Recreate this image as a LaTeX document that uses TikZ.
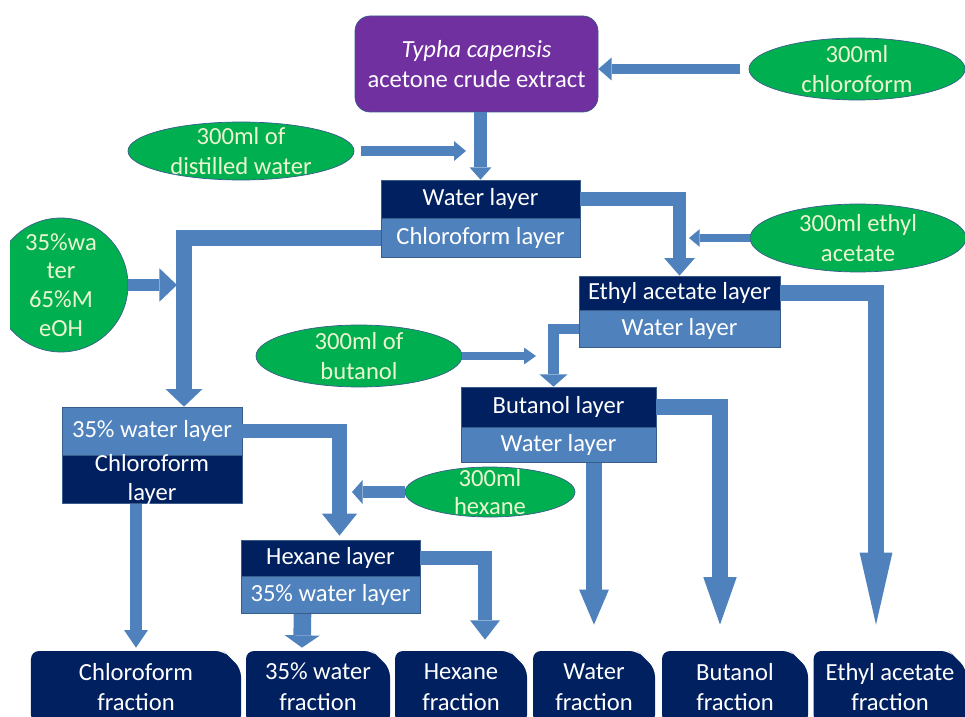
\documentclass[tikz,border=0pt]{standalone}
\usepackage{fontspec}
\setmainfont{Carlito}
\usepackage{tikz}
\usetikzlibrary{arrows.meta,positioning,calc,shapes.geometric,shapes.misc}
\definecolor{extractpurple}{RGB}{112,48,160}
\definecolor{layernavy}{RGB}{0,32,96}
\definecolor{layerblue}{RGB}{79,129,189}
\definecolor{pipeblue}{RGB}{79,129,189}
\definecolor{pipeedge}{RGB}{56,93,138}
\definecolor{solvgreen}{RGB}{0,176,80}
\definecolor{solvtext}{RGB}{236,246,206}

\begin{document}
\begin{tikzpicture}[x=0.2mm,y=-0.2mm,font=\fontsize{14}{17.5}\selectfont,
 darklay/.style={rectangle,draw=pipeedge,fill=layernavy,text=white,inner sep=0pt,align=center},
 lightlay/.style={rectangle,draw=pipeedge,fill=layerblue,text=white,inner sep=0pt,align=center},
 solv/.style={ellipse,draw=pipeedge,fill=solvgreen,text=solvtext,inner sep=-10mm,align=center},
 frac/.style={chamfered rectangle,chamfered rectangle corners=north east,chamfered rectangle xsep=2.4mm,
   rounded corners=1.6mm,fill=layernavy,text=white,inner sep=0pt,minimum height=14.4mm,align=center},
 pipe/.style n args={3}{draw=pipeblue,line width=#1,-{Triangle[width=#2,length=#3,line width=0pt]}}]
\useasboundingbox (0,0) rectangle (965,717);
\clip (0,0) rectangle (965,717);
\node[rectangle,rounded corners=3mm,draw=pipeedge,fill=extractpurple,text=white,minimum width=48.6mm,minimum height=19.2mm,align=center] (crude) at (476.5,64) {\textit{Typha capensis}\\acetone crude extract};
\node[solv,minimum width=43.2mm,minimum height=12.4mm] (chl) at (857,69) {300ml\\chloroform};
\node[solv,minimum width=45.2mm,minimum height=11.6mm] (dw) at (241,151) {300ml of\\distilled water};
\node[darklay,minimum width=39.8mm,minimum height=7.6mm] (wl1) at (480.5,199) {Water layer};
\node[lightlay,minimum width=39.8mm,minimum height=7.8mm,below=0pt of wl1] (cl1) {Chloroform layer};
\node[solv,minimum width=43.2mm,minimum height=13.6mm] (ea) at (858,238) {300ml ethyl\\acetate};
\node[darklay,minimum width=40.2mm,minimum height=6.8mm] (ea2) at (679.5,293) {Ethyl acetate layer};
\node[lightlay,minimum width=40.2mm,minimum height=7.4mm,below=0pt of ea2] (wl2) {Water layer};
\begin{scope}
\clip (10,0) rectangle (965,717);
\node[solv,minimum size=26.8mm,font=\fontsize{14}{16.4}\selectfont] (meoh) at (61,285) {35\%wa\\ter\\65\%M\\eOH};
\end{scope}
\node[solv,minimum width=41.2mm,minimum height=12.4mm] (bu) at (359,356) {300ml of\\butanol};
\node[darklay,minimum width=39mm,minimum height=8mm] (bu5) at (558.5,407) {Butanol layer};
\node[lightlay,minimum width=39mm,minimum height=7mm,below=0pt of bu5] (wl5) {Water layer};
\node[lightlay,minimum width=36mm,minimum height=9.6mm] (w3) at (152,431) {35\% water layer};
\node[darklay,minimum width=36mm,minimum height=9.6mm,inner ysep=-2pt,font=\fontsize{14}{16.4}\selectfont,below=0pt of w3] (cl3) {Chloroform\\layer};
\node[solv,minimum width=34mm,minimum height=10mm,font=\fontsize{14}{16}\selectfont] (hx) at (490,492) {300ml\\hexane};
\node[darklay,minimum width=35.8mm,minimum height=7.2mm] (hx4) at (330.5,558) {Hexane layer};
\node[lightlay,minimum width=35.8mm,minimum height=7.4mm,below=0pt of hx4] (w4) {35\% water layer};
% fractions
\node[frac,minimum width=42mm] (f1) at (136,687) {Chloroform\\fraction};
\node[frac,minimum width=28.8mm] (f2) at (318,687) {35\% water\\fraction};
\node[frac,minimum width=26.4mm] (f3) at (461,687) {Hexane\\fraction};
\node[frac,minimum width=24.4mm] (f4) at (594,687) {Water\\fraction};
\node[frac,minimum width=29.2mm] (f5) at (735,687) {Butanol\\fraction};
\node[frac,minimum width=30.4mm] (f6) at (890,687) {Ethyl acetate\\fraction};
% solvent inlets
\coordinate (dwin) at (466,147);
\coordinate (eain) at (689,239);
\coordinate (meohin) at (177,285);
\coordinate (hexin) at (352,490);
\coordinate (buin) at (536,359);
\draw[pipe={6.2pt}{13pt}{7.5pt},shorten <=5pt] (chl.west) -- (chl.west -| crude.east);
\draw[pipe={5.7pt}{11.3pt}{6.8pt},shorten <=4pt] (dw.east) -- (dw.east -| dwin);
\draw[pipe={4.8pt}{10pt}{6pt}] (ea.west) -- (ea.west -| eain);
\draw[pipe={7pt}{19pt}{10pt}] (meoh.east) -- (meoh.east -| meohin);
\draw[pipe={6.5pt}{13.6pt}{6pt}] (hx.west) -- (hx.west -| hexin);
\draw[pipe={5pt}{9.6pt}{6.8pt}] (bu.east) -- (bu.east -| buin);
% separations
\draw[pipe={7.2pt}{12.5pt}{7pt}] (crude.south -| wl1.north) -- (wl1.north);
\draw[pipe={7.5pt}{17.5pt}{10pt}] (wl1.east) -| (ea2.north);
\draw[pipe={9pt}{18.7pt}{41pt}] (ea2.east) -| ($(f6.north)+(-14,-26)$);
\draw[pipe={9pt}{21pt}{10pt}] (cl1.west) -| ($(w3.north)+(32,0)$);
\draw[pipe={8pt}{20pt}{12.5pt}] (w3.east) -| ($(hx4.north)+(9,-4)$);
\draw[pipe={6pt}{16pt}{7pt}] (wl2.west) -| ($(bu5.north)+(-5,0)$);
\draw[pipe={9pt}{19pt}{27pt}] (bu5.east) -| ($(f5.north)+(-15,-26)$);
\draw[pipe={9pt}{17pt}{20pt}] (wl5.south -| f4.north) -- ($(f4.north)+(0,-26)$);
\draw[pipe={6.8pt}{13.6pt}{10pt}] (cl3.south -| f1.north) -- ($(f1.north)+(0,-3)$);
\draw[pipe={10pt}{20pt}{7pt}] ($(w4.south)+(-28,0)$) -- ($(f2.north)+(-16,-3)$);
\draw[pipe={8pt}{17pt}{11pt}] (hx4.east) -| ($(f3.north)+(24,-11)$);
\end{tikzpicture}
\end{document}
